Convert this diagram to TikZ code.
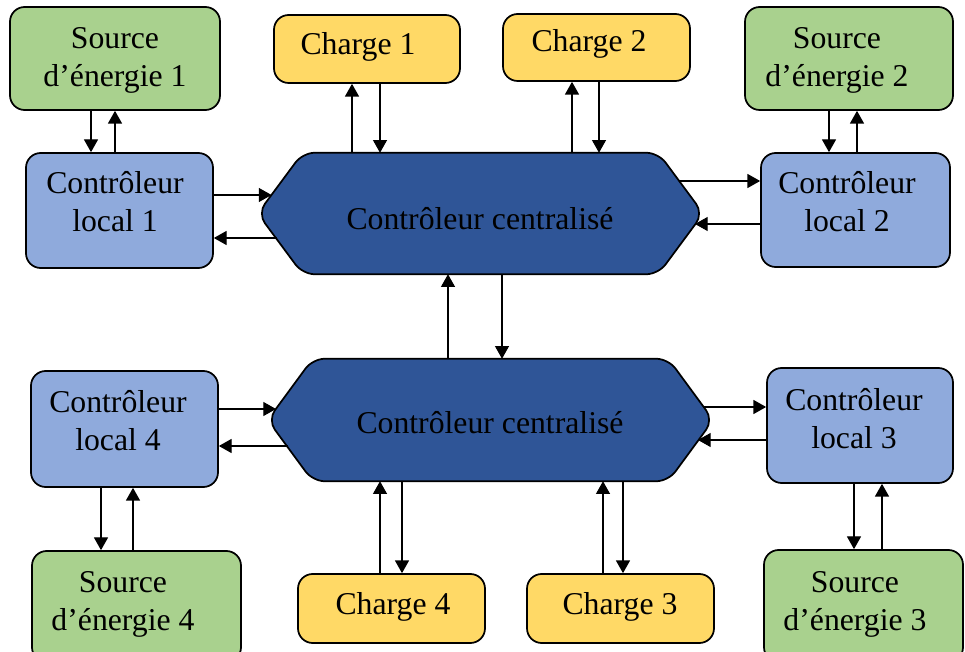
\documentclass[tikz,border=0pt]{standalone}
\usepackage{fontspec}
\setmainfont{Liberation Serif}
\usetikzlibrary{arrows.meta,calc,fit}
\definecolor{srcgreen}{HTML}{A9D18E}
\definecolor{loadyellow}{HTML}{FFD966}
\definecolor{localblue}{HTML}{8FAADC}
\definecolor{centralblue}{HTML}{2F5597}
\begin{document}
\begin{tikzpicture}[x=0.75pt,y=-0.75pt,
  box/.style={draw=black, line width=1.3pt, rounded corners=11pt, inner sep=0pt},
  srcbox/.style={box, fill=srcgreen},
  loadbox/.style={box, fill=loadyellow},
  localbox/.style={box, fill=localblue},
  hexframe/.style={draw=none, inner sep=0pt},
  hexshape/.style={draw=black, fill=centralblue, line width=1.3pt, rounded corners=9pt},
  txt/.style={align=center, font=\fontsize{23.8}{28.5}\selectfont, inner sep=0pt},
  link/.style={line width=0.8pt, -{Triangle[length=9.5pt,width=10.5pt]}},
]
\useasboundingbox (0,0) rectangle (965,652);
\clip (0,0) rectangle (965,652);

% energy sources
\node[srcbox, fit={(10,7) (220,110)}] (s1) {};
\node[srcbox, fit={(745,7) (953,110)}] (s2) {};
\node[srcbox, fit={(764,550) (963,662)}] (s3) {};
\node[srcbox, fit={(32,551) (241,662)}] (s4) {};

% loads
\node[loadbox, fit={(274,15) (460,83)}] (c1) {};
\node[loadbox, fit={(503,14) (690,81)}] (c2) {};
\node[loadbox, fit={(527,574) (714,643)}] (c3) {};
\node[loadbox, fit={(298,574) (485,643)}] (c4) {};

% local controllers
\node[localbox, fit={(26,153) (213,268)}] (l1) {};
\node[localbox, fit={(761,153) (950,267)}] (l2) {};
\node[localbox, fit={(767,368) (953,483)}] (l3) {};
\node[localbox, fit={(31,371) (218,487)}] (l4) {};

% centralised controllers (hexagons)
\node[hexframe, fit={(258,153) (703,274)}] (h1) {};
\draw[hexshape] (h1.west) -- ($(h1.north west)+(45,0)$) -- ($(h1.north east)+(-45,0)$)
  -- (h1.east) -- ($(h1.south east)+(-45,0)$) -- ($(h1.south west)+(45,0)$) -- cycle;
\node[hexframe, fit={(268,359) (713,481)}] (h2) {};
\draw[hexshape] (h2.west) -- ($(h2.north west)+(45,0)$) -- ($(h2.north east)+(-45,0)$)
  -- (h2.east) -- ($(h2.south east)+(-45,0)$) -- ($(h2.south west)+(45,0)$) -- cycle;

% labels
\node[txt] (s1t) at (115,60.5) {Source\\d’énergie 1};
\node[txt] (s2t) at (837,60) {Source\\d’énergie 2};
\node[txt] (s3t) at (855,604) {Source\\d’énergie 3};
\node[txt] (s4t) at (123,604) {Source\\d’énergie 4};
\node[txt] (c1t) at (358,47) {Charge 1};
\node[txt] (c2t) at (589,44) {Charge 2};
\node[txt] (c3t) at (620,607) {Charge 3};
\node[txt] (c4t) at (393,607) {Charge 4};
\node[txt] (l1t) at (115,202) {Contrôleur\\local 1};
\node[txt] (l2t) at (847,202) {Contrôleur\\local 2};
\node[txt] (l3t) at (854,418.5) {Contrôleur\\local 3};
\node[txt] (l4t) at (118,421) {Contrôleur\\local 4};
\node[txt] (h1t) at (480,219) {Contrôleur centralisé};
\node[txt] (h2t) at (490,423) {Contrôleur centralisé};

% points on the slanted hexagon edges
\coordinate (h1a) at (271.5,195);
\coordinate (h1b) at (277,238);
\coordinate (h1c) at (679,181);
\coordinate (h1d) at (695,224);
\coordinate (h2a) at (276,409);
\coordinate (h2b) at (287.5,446);
\coordinate (h2c) at (703,407);
\coordinate (h2d) at (698,440);

% source <-> local controller
\draw[link] (s1.south -| 91,0) -- (l1.north -| 91,0);
\draw[link] (l1.north -| 115,0) -- (s1.south -| 115,0);
\draw[link] (s2.south -| 829,0) -- (l2.north -| 829,0);
\draw[link] (l2.north -| 857,0) -- (s2.south -| 857,0);
\draw[link] (l3.south -| 854,0) -- (s3.north -| 854,0);
\draw[link] (s3.north -| 882,0) -- (l3.south -| 882,0);
\draw[link] (l4.south -| 101,0) -- (s4.north -| 101,0);
\draw[link] (s4.north -| 133,0) -- (l4.south -| 133,0);

% local controller <-> central controller
\draw[link] (l1.east |- h1a) -- (h1a);
\draw[link] (h1b) -- (l1.east |- h1b);
\draw[link] (h1c) -- (l2.west |- h1c);
\draw[link] (l2.west |- h1d) -- (h1d);
\draw[link] (l4.east |- h2a) -- (h2a);
\draw[link] (h2b) -- (l4.east |- h2b);
\draw[link] (h2c) -- (l3.west |- h2c);
\draw[link] (l3.west |- h2d) -- (h2d);

% loads <-> central controller
\draw[link] (h1.north -| 352,0) -- (c1.south -| 352,0);
\draw[link] (c1.south -| 380,0) -- (h1.north -| 380,0);
\draw[link] (h1.north -| 572,0) -- (c2.south -| 572,0);
\draw[link] (c2.south -| 599,0) -- (h1.north -| 599,0);
\draw[link] (c4.north -| 380,0) -- (h2.south -| 380,0);
\draw[link] (h2.south -| 402,0) -- (c4.north -| 402,0);
\draw[link] (c3.north -| 603,0) -- (h2.south -| 603,0);
\draw[link] (h2.south -| 623,0) -- (c3.north -| 623,0);

% central <-> central
\draw[link] (h2.north -| 448,0) -- (h1.south -| 448,0);
\draw[link] (h1.south -| 502,0) -- (h2.north -| 502,0);
\end{tikzpicture}
\end{document}
